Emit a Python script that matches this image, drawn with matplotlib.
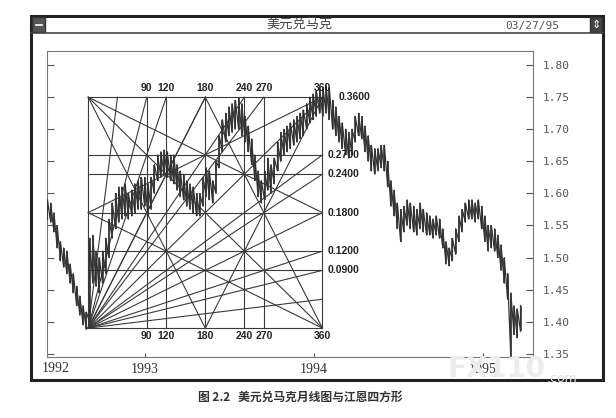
import numpy as np
import pandas as pd
import matplotlib
matplotlib.use("Agg")
import matplotlib.pyplot as plt
import matplotlib.dates as mdates
from matplotlib.patches import Rectangle
from matplotlib.lines import Line2D

plt.rcParams['font.family'] = ['DejaVu Sans', 'Noto Sans CJK SC']

W, H = 616, 418

# weekly high / low, USD/DEM (first week 1992-06-05)
first_week = '1992-06-05'
hi = [1.59, 1.585, 1.57, 1.55, 1.525, 1.515, 1.51, 1.49, 1.475, 1.455,
      1.44, 1.425, 1.415, 1.53, 1.535, 1.51, 1.50, 1.51, 1.53, 1.56,
      1.585, 1.60, 1.61, 1.61, 1.615, 1.60, 1.605, 1.615, 1.62, 1.625,
      1.625, 1.615, 1.625, 1.645, 1.66, 1.665, 1.668, 1.665, 1.66, 1.66,
      1.645, 1.635, 1.63, 1.62, 1.615, 1.61, 1.60, 1.60, 1.625, 1.64,
      1.635, 1.62, 1.65, 1.69, 1.715, 1.725, 1.735, 1.74, 1.745, 1.748,
      1.74, 1.72, 1.705, 1.685, 1.66, 1.635, 1.62, 1.635, 1.655, 1.645,
      1.655, 1.68, 1.695, 1.70, 1.705, 1.71, 1.715, 1.72, 1.725, 1.73,
      1.74, 1.75, 1.755, 1.76, 1.762, 1.765, 1.768, 1.765, 1.745, 1.735,
      1.72, 1.71, 1.70, 1.695, 1.70, 1.72, 1.725, 1.72, 1.705, 1.69,
      1.675, 1.67, 1.67, 1.675, 1.675, 1.65, 1.62, 1.605, 1.585, 1.575,
      1.58, 1.59, 1.585, 1.58, 1.575, 1.585, 1.575, 1.57, 1.565, 1.56,
      1.565, 1.56, 1.545, 1.525, 1.515, 1.53, 1.545, 1.565, 1.575, 1.585,
      1.59, 1.59, 1.585, 1.59, 1.58, 1.565, 1.55, 1.55, 1.545, 1.535,
      1.52, 1.50, 1.475, 1.445, 1.425, 1.42, 1.425]
lo = [1.56, 1.555, 1.54, 1.515, 1.495, 1.485, 1.475, 1.46, 1.445, 1.425,
      1.41, 1.395, 1.388, 1.40, 1.46, 1.455, 1.445, 1.46, 1.475, 1.50,
      1.53, 1.545, 1.555, 1.56, 1.565, 1.56, 1.565, 1.57, 1.575, 1.575,
      1.58, 1.565, 1.575, 1.60, 1.62, 1.625, 1.63, 1.625, 1.62, 1.615,
      1.605, 1.595, 1.59, 1.58, 1.575, 1.57, 1.565, 1.565, 1.58, 1.595,
      1.59, 1.585, 1.60, 1.64, 1.665, 1.68, 1.69, 1.695, 1.70, 1.70,
      1.69, 1.68, 1.665, 1.645, 1.62, 1.595, 1.585, 1.59, 1.605, 1.60,
      1.615, 1.635, 1.65, 1.66, 1.665, 1.67, 1.675, 1.68, 1.685, 1.69,
      1.70, 1.71, 1.715, 1.72, 1.725, 1.72, 1.725, 1.715, 1.70, 1.69,
      1.68, 1.67, 1.66, 1.655, 1.66, 1.68, 1.69, 1.685, 1.665, 1.65,
      1.635, 1.63, 1.635, 1.64, 1.635, 1.61, 1.58, 1.565, 1.545, 1.525,
      1.54, 1.55, 1.545, 1.54, 1.535, 1.545, 1.54, 1.535, 1.535, 1.53,
      1.535, 1.53, 1.515, 1.49, 1.487, 1.495, 1.505, 1.525, 1.54, 1.555,
      1.56, 1.56, 1.555, 1.56, 1.545, 1.525, 1.51, 1.515, 1.51, 1.50,
      1.48, 1.46, 1.435, 1.345, 1.38, 1.375, 1.385]

# Gann square: 360 trading days by 0.36 mark
gann_start, gann_end = '1992-09-01', '1994-01-20'
gann_low = 1.39
degrees = [90, 120, 180, 240, 270, 360]
price_steps = [0.09, 0.12, 0.18, 0.24, 0.27, 0.36]
fan_degrees = [45, 90, 120, 180, 240, 270]

years = [1993, 1994, 1995]
yticks = [1.35, 1.40, 1.45, 1.50, 1.55, 1.60, 1.65, 1.70, 1.75, 1.80]


def fx(x):
    return x / W


def fy(y):
    return 1 - y / H


fig = plt.figure(figsize=(W / 100, H / 100), dpi=100)
fig.patch.set_facecolor('white')

ax = fig.add_axes([fx(47), fy(357), (533 - 47) / W, (357 - 51) / H])
dates = mdates.date2num(pd.date_range(first_week, periods=len(hi), freq='7D'))
ax.vlines(dates, lo, hi, color='#2e2e2e', lw=1.1, zorder=3)
# jagged trace running low -> high through every week
zx = np.repeat(dates, 2)
zy = np.column_stack([lo, hi]).ravel()
ax.plot(zx, zy, color='#333', lw=0.9, zorder=3)

# Gann square
g0 = mdates.datestr2num(gann_start)
g1 = mdates.datestr2num(gann_end)
size = price_steps[-1]


def gp(u, v):
    return g0 + u * (g1 - g0), gann_low + v * size


def seg(a, b):
    (x0, y0), (x1, y1) = gp(*a), gp(*b)
    ax.plot([x0, x1], [y0, y1], color='#3a3a3a', lw=0.8, zorder=2)


for a, b in [((0, 0), (1, 0)), ((1, 0), (1, 1)), ((1, 1), (0, 1)), ((0, 1), (0, 0))]:
    seg(a, b)
for d in degrees[:-1]:
    seg((d / 360, 0), (d / 360, 1))
for s in price_steps[:-1]:
    seg((0, s / size), (1, s / size))
for d in fan_degrees:
    seg((0, 0), (1, d / 360))
    seg((0, 0), (d / 360, 1))
seg((0, 0), (1, 1))
star = [((0, 1), (1, 0)), ((0.5, 1), (0, 0)), ((0.5, 1), (1, 0)),
        ((0.5, 0), (0, 1)), ((0.5, 0), (1, 1)), ((0, 0.5), (1, 1)),
        ((0, 0.5), (1, 0)), ((1, 0.5), (0, 1))]
for a, b in star:
    seg(a, b)

lab = dict(fontsize=7.5, fontweight='bold', color='#222', family='Liberation Sans')
for d in degrees:
    ax.annotate(str(d), gp(d / 360, 1), xytext=(0, 3), textcoords='offset points',
                ha='center', va='bottom', **lab)
    ax.annotate(str(d), gp(d / 360, 0), xytext=(0, -2), textcoords='offset points',
                ha='center', va='top', **lab)
for s in price_steps:
    off = 12 if s == size else 4
    ax.annotate(f'{s:.4f}', gp(1, s / size), xytext=(off, 0), textcoords='offset points',
                ha='left', va='center', **lab)

ax.set_xlim(mdates.datestr2num('1992-06-04'), mdates.datestr2num('1995-04-20'))
ax.set_ylim(1.345, 1.822)
ax.set_xticks([mdates.datestr2num(f'{y}-01-01') for y in years])
ax.set_xticklabels([str(y) for y in years], family='Liberation Serif', fontsize=10, color='#333')
ax.set_yticks(yticks)
ax.set_yticklabels([f'{v:.2f}' for v in yticks], family='DejaVu Sans Mono', fontsize=8, color='#555')
ax.tick_params(axis='y', direction='in', length=5, left=True, right=True,
               labelleft=False, labelright=True, pad=7, color='#555')
ax.tick_params(axis='x', direction='in', length=3, pad=4, color='#555')
for sp in ax.spines.values():
    sp.set_color('#777')
    sp.set_linewidth(0.8)
fig.text(fx(42), fy(369), '1992', family='Liberation Serif', fontsize=10,
         color='#333', va='center', ha='left')

# window frame
fig.add_artist(Rectangle((fx(31), fy(380)), (603 - 31) / W, (380 - 16) / H, fill=False,
                         ec='#222', lw=2.2, transform=fig.transFigure))
fig.add_artist(Line2D([fx(31), fx(603)], [fy(33), fy(33)], color='#444', lw=1.2,
                      transform=fig.transFigure))
fig.add_artist(Rectangle((fx(32), fy(32)), 13 / W, 15 / H, fc='#555', ec='#333',
                         transform=fig.transFigure))
fig.add_artist(Line2D([fx(35.5), fx(42)], [fy(24.5), fy(24.5)], color='white', lw=1.2,
                      transform=fig.transFigure))
fig.add_artist(Rectangle((fx(590), fy(32)), 12 / W, 15 / H, fc='#444', ec='#333',
                         transform=fig.transFigure))
fig.text(fx(596), fy(24.5), '⇕', color='white', fontsize=8, ha='center', va='center')
fig.text(fx(300), fy(24.5), '美元兑马克', family=['Noto Sans CJK SC'], fontsize=9.5,
         color='#444', ha='center', va='center')
fig.text(fx(532), fy(25.5), '03/27/95', family='DejaVu Sans Mono', fontsize=8,
         color='#555', ha='center', va='center')

# caption
fig.text(fx(300), fy(397), '图 2.2   美元兑马克月线图与江恩四方形',
         family=['Noto Sans CJK SC', 'DejaVu Sans'], fontsize=8.5, fontweight='bold',
         color='#333', ha='center', va='center')

# watermark
fig.text(fx(448), fy(369), 'FX110', fontsize=20, fontweight='bold', color='#ececec',
         ha='left', va='center', zorder=10)
fig.text(fx(547), fy(378), '.com', fontsize=9, color='#e4e4e4',
         ha='left', va='center', zorder=10)

fig.savefig('out.png', dpi=100)
